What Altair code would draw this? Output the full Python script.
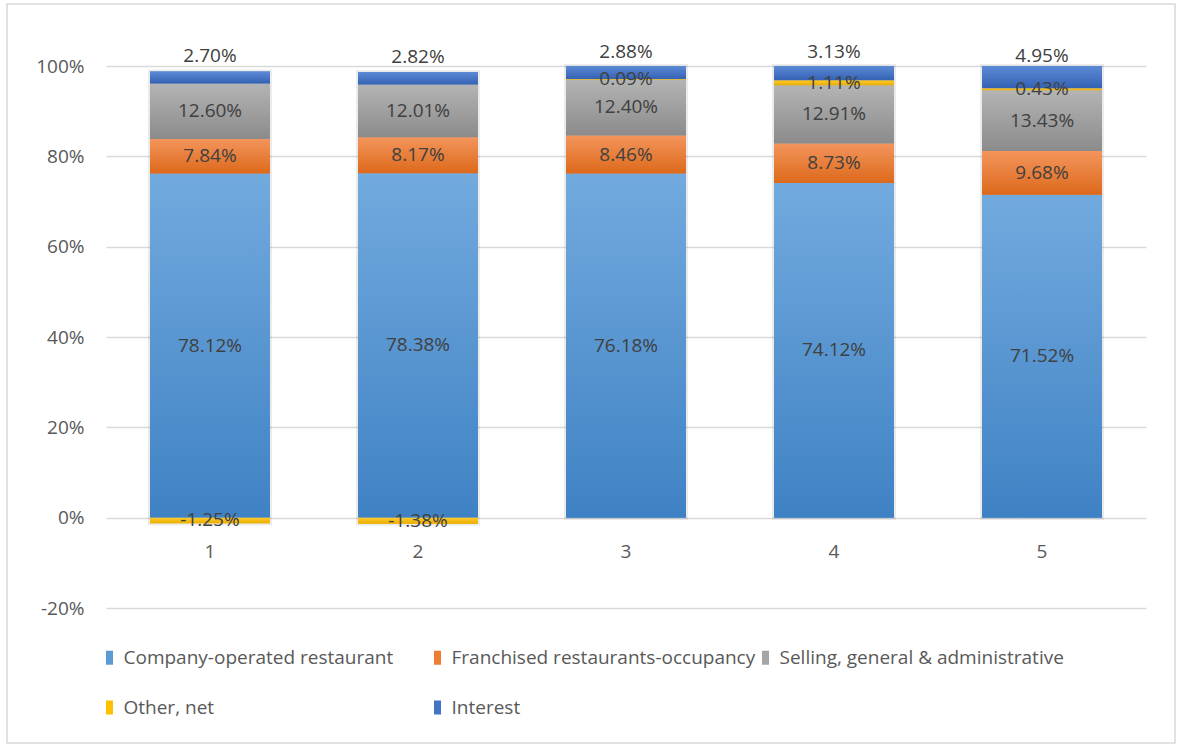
import altair as alt
import pandas as pd

# Cost structure per period, in percent of the absolute total
categories = ["1", "2", "3", "4", "5"]
series = [
    "Company-operated restaurant",
    "Franchised restaurants-occupancy",
    "Selling, general & administrative",
    "Other, net",
    "Interest",
]
company_operated = [78.12, 78.38, 76.18, 74.12, 71.52]
franchised_occupancy = [7.84, 8.17, 8.46, 8.73, 9.68]
selling_general_admin = [12.60, 12.01, 12.40, 12.91, 13.43]
other_net = [-1.25, -1.38, 0.09, 1.11, 0.43]
interest = [2.70, 2.82, 2.88, 3.13, 4.95]
y_ticks = [-0.2, 0.0, 0.2, 0.4, 0.6, 0.8, 1.0]

FONT = "Open Sans"
base_colors = ["#5b9bd5", "#ed7d31", "#a5a5a5", "#ffc000", "#4472c4"]
gradient_pairs = [
    ("#72aade", "#3f82c4"),
    ("#f3955c", "#dd691b"),
    ("#b4b4b4", "#8b8b8b"),
    ("#ffcb30", "#e9ae00"),
    ("#5d8ad5", "#3462b4"),
]

values_by_series = [company_operated, franchised_occupancy, selling_general_admin, other_net, interest]
rows = []
for idx, (name, vals) in enumerate(zip(series, values_by_series)):
    for cat, v in zip(categories, vals):
        rows.append({"cat": cat, "series": name, "idx": idx, "value": v})
df = pd.DataFrame(rows)

# 100% stacked columns: each part is scaled by the sum of absolute values
base = (
    alt.Chart(df)
    .transform_calculate(absval="abs(datum.value)")
    .transform_joinaggregate(total="sum(absval)", groupby=["cat"])
    .transform_calculate(
        share="datum.value / datum.total",
        label="replace(format(datum.value, '.2f'), '\u2212', '-') + '%'",
    )
    .transform_stack(
        stack="share",
        groupby=["cat"],
        as_=["y0", "y1"],
        sort=[alt.SortField("idx")],
        offset="zero",
    )
    .transform_calculate(mid="(datum.y0 + datum.y1) / 2")
)

x_enc = alt.X(
    "cat:N",
    scale=alt.Scale(domain=categories, paddingInner=0.4231, paddingOuter=0.2115),
    axis=None,
)
y_scale = alt.Scale(domain=[-0.2, 1.0], nice=False, zero=False)
y_axis = alt.Axis(
    values=y_ticks,
    format=".0%",
    labelExpr="replace(datum.label, '\u2212', '-')",
    grid=True,
    domain=False,
    ticks=False,
    labelPadding=22,
    labelFontSize=19,
    labelFont=FONT,
    labelColor="#595959",
    gridColor="#d9d9d9",
    gridWidth=1.5,
    title=None,
)

# soft shadow around each whole column
shadow = (
    base.transform_calculate(
        lo="min(datum.y0, datum.y1)", hi="max(datum.y0, datum.y1)"
    )
    .transform_aggregate(lo="min(lo)", hi="max(hi)", groupby=["cat"])
    .mark_bar(color="#ffffff", stroke="#000000", strokeOpacity=0.08, strokeWidth=4)
    .encode(x=x_enc, y=alt.Y("lo:Q", scale=y_scale, axis=y_axis), y2="hi:Q")
)

flat_bars = base.mark_bar().encode(
    x=x_enc,
    y=alt.Y("y0:Q", scale=y_scale, axis=y_axis),
    y2="y1:Q",
    color=alt.Color(
        "series:N",
        scale=alt.Scale(domain=series, range=base_colors),
        legend=alt.Legend(
            title=None,
            orient="none",
            legendX=-6,
            legendY=582,
            direction="horizontal",
            columns=3,
            gridAlign="all",
            columnPadding=0,
            rowPadding=30,
            padding=0,
            symbolType="M-0.5,-1H0.5V1H-0.5Z",
            symbolSize=196,
            symbolStrokeWidth=0,
            labelOffset=4.5,
            labelFont=FONT,
            labelFontSize=19,
            labelColor="#595959",
            labelLimit=400,
        ),
    ),
)

gradient_layers = []
for i, (top, bottom) in enumerate(gradient_pairs):
    gradient_layers.append(
        base.transform_filter(alt.datum.idx == i)
        .mark_bar(
            color=alt.LinearGradient(
                gradient="linear",
                stops=[
                    alt.GradientStop(color=top, offset=0),
                    alt.GradientStop(color=bottom, offset=1),
                ],
                x1=0, x2=0, y1=0, y2=1,
            )
        )
        .encode(x=x_enc, y=alt.Y("y0:Q", scale=y_scale, axis=y_axis), y2="y1:Q")
    )

label_style = dict(font=FONT, fontSize=19, color="#404040", baseline="middle", align="center")

inner_labels = (
    base.transform_filter(alt.datum.idx < 4)
    .mark_text(**label_style)
    .encode(x=x_enc, y=alt.Y("mid:Q", scale=y_scale, axis=y_axis), text="label:N")
)
top_labels = (
    base.transform_filter(alt.datum.idx == 4)
    .mark_text(dy=-21, **label_style)
    .encode(x=x_enc, y=alt.Y("mid:Q", scale=y_scale, axis=y_axis), text="label:N")
)

cat_labels = (
    alt.Chart(pd.DataFrame({"cat": categories}))
    .mark_text(dy=34, font=FONT, fontSize=19, color="#595959", baseline="middle", align="center")
    .encode(x=x_enc, y=alt.datum(0, scale=y_scale, axis=y_axis), text="cat:N")
)

frame = (
    alt.Chart(pd.DataFrame({"k": [0]}))
    .mark_rect(fillOpacity=0, stroke="#d9d9d9", strokeWidth=1.5)
    .encode(x=alt.value(-99), x2=alt.value(1069), y=alt.value(-62), y2=alt.value(677))
)

chart = (
    alt.layer(frame, shadow, flat_bars, *gradient_layers, inner_labels, top_labels, cat_labels)
    .properties(
        width=1040,
        height=542,
        autosize=alt.AutoSizeParams(type="none"),
        padding={"left": 106, "top": 66, "right": 31, "bottom": 137},
        background="white",
    )
    .configure_view(stroke=None)
)

chart.save("out.html", embed_options={"renderer": "svg", "actions": False})
